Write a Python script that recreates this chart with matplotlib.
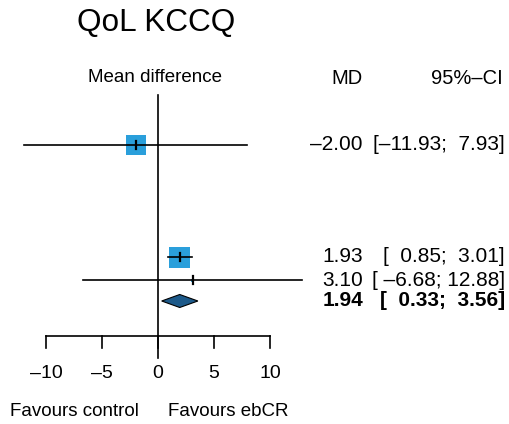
import numpy as np
import matplotlib
matplotlib.use('Agg')
import matplotlib.pyplot as plt
from matplotlib.patches import Rectangle, Polygon

plt.rcParams['font.family'] = ['Liberation Sans', 'DejaVu Sans']

# study data
md = [-2.00, 1.93, 3.10]
lower = [-11.93, 0.85, -6.68]
upper = [7.93, 3.01, 12.88]
box_px = [20, 21, 3]  # square side in pixels (weight)
# pooled
pooled_md = 1.94
pooled_lower = 0.33
pooled_upper = 3.56

ticks = [-10, -5, 0, 5, 10]
title = 'QoL KCCQ'

W, H = 509, 424
fig = plt.figure(figsize=(W / 100, H / 100), dpi=100)
ax = fig.add_axes([0, 0, 1, 1])

# map x: -10 -> 46px, 10 -> 270px
scale = (270 - 46) / 20.0
x0 = 46 - (-10) * scale
ax.set_xlim(-x0 / scale, (W - x0) / scale)
ax.set_ylim(H, 0)  # y in pixels, top-down
ax.axis('off')

row_y = [145, 257, 280]
pooled_y = 301
axis_y = 336
fs_lab = 13.5
fs_num = 15

def fmt(v, nd=2):
    return ('%.*f' % (nd, v)).replace('-', '\u2013')

def fx(px):
    return px / W

def fy(py):
    return 1 - py / H

# zero line
ax.plot([0, 0], [95, 358], color='black', lw=1.2)

for i in range(len(md)):
    ax.plot([lower[i], upper[i]], [row_y[i], row_y[i]], color='black', lw=1.2, zorder=3)
    s = box_px[i]
    ax.add_patch(Rectangle((md[i] - s / 2 / scale, row_y[i] - s / 2), s / scale, s,
                           facecolor='#2a9fdb', edgecolor='none', zorder=2))
    ax.plot([md[i], md[i]], [row_y[i] - 4, row_y[i] + 4], color='black', lw=1.6, zorder=4)

# diamond
ax.add_patch(Polygon([[pooled_lower, pooled_y], [pooled_md, pooled_y - 6.5],
                      [pooled_upper, pooled_y], [pooled_md, pooled_y + 6.5]],
                     closed=True, facecolor='#1d5a8a', edgecolor='black', lw=0.8, zorder=3))

# x axis
ax.plot([ticks[0], ticks[-1]], [axis_y, axis_y], color='black', lw=1.2)
for t in ticks:
    ax.plot([t, t], [axis_y, axis_y + 12], color='black', lw=1.2)
    ax.text(t, 373, fmt(t, 0), ha='center', va='center', fontsize=14)

fig.text(fx(74), fy(411), 'Favours control', ha='center', va='center', fontsize=fs_lab)
fig.text(fx(228), fy(411), 'Favours ebCR', ha='center', va='center', fontsize=fs_lab)

# headers
fig.text(fx(77), fy(31), title, ha='left', va='baseline', fontsize=22.7)
fig.text(fx(155), fy(78), 'Mean difference', ha='center', va='center', fontsize=fs_lab)
fig.text(fx(347), fy(78), 'MD', ha='center', va='center', fontsize=14.5)
fig.text(fx(503), fy(78), '95%\u2013CI', ha='right', va='center', fontsize=14.5)

# right columns (R style padding)
def write_row(y, m, lo, hi, weight='normal'):
    fig.text(fx(363), fy(y), fmt(m), ha='right', va='center', fontsize=fs_num, fontweight=weight)
    ci = '[' + fmt(lo).rjust(6) + '; ' + fmt(hi).rjust(5) + ']'
    fig.text(fx(505), fy(y), ci, ha='right', va='center', fontsize=fs_num, fontweight=weight)

for i in range(len(md)):
    write_row(row_y[i], md[i], lower[i], upper[i])
write_row(pooled_y, pooled_md, pooled_lower, pooled_upper, weight='bold')

fig.savefig('out.png', dpi=100)
